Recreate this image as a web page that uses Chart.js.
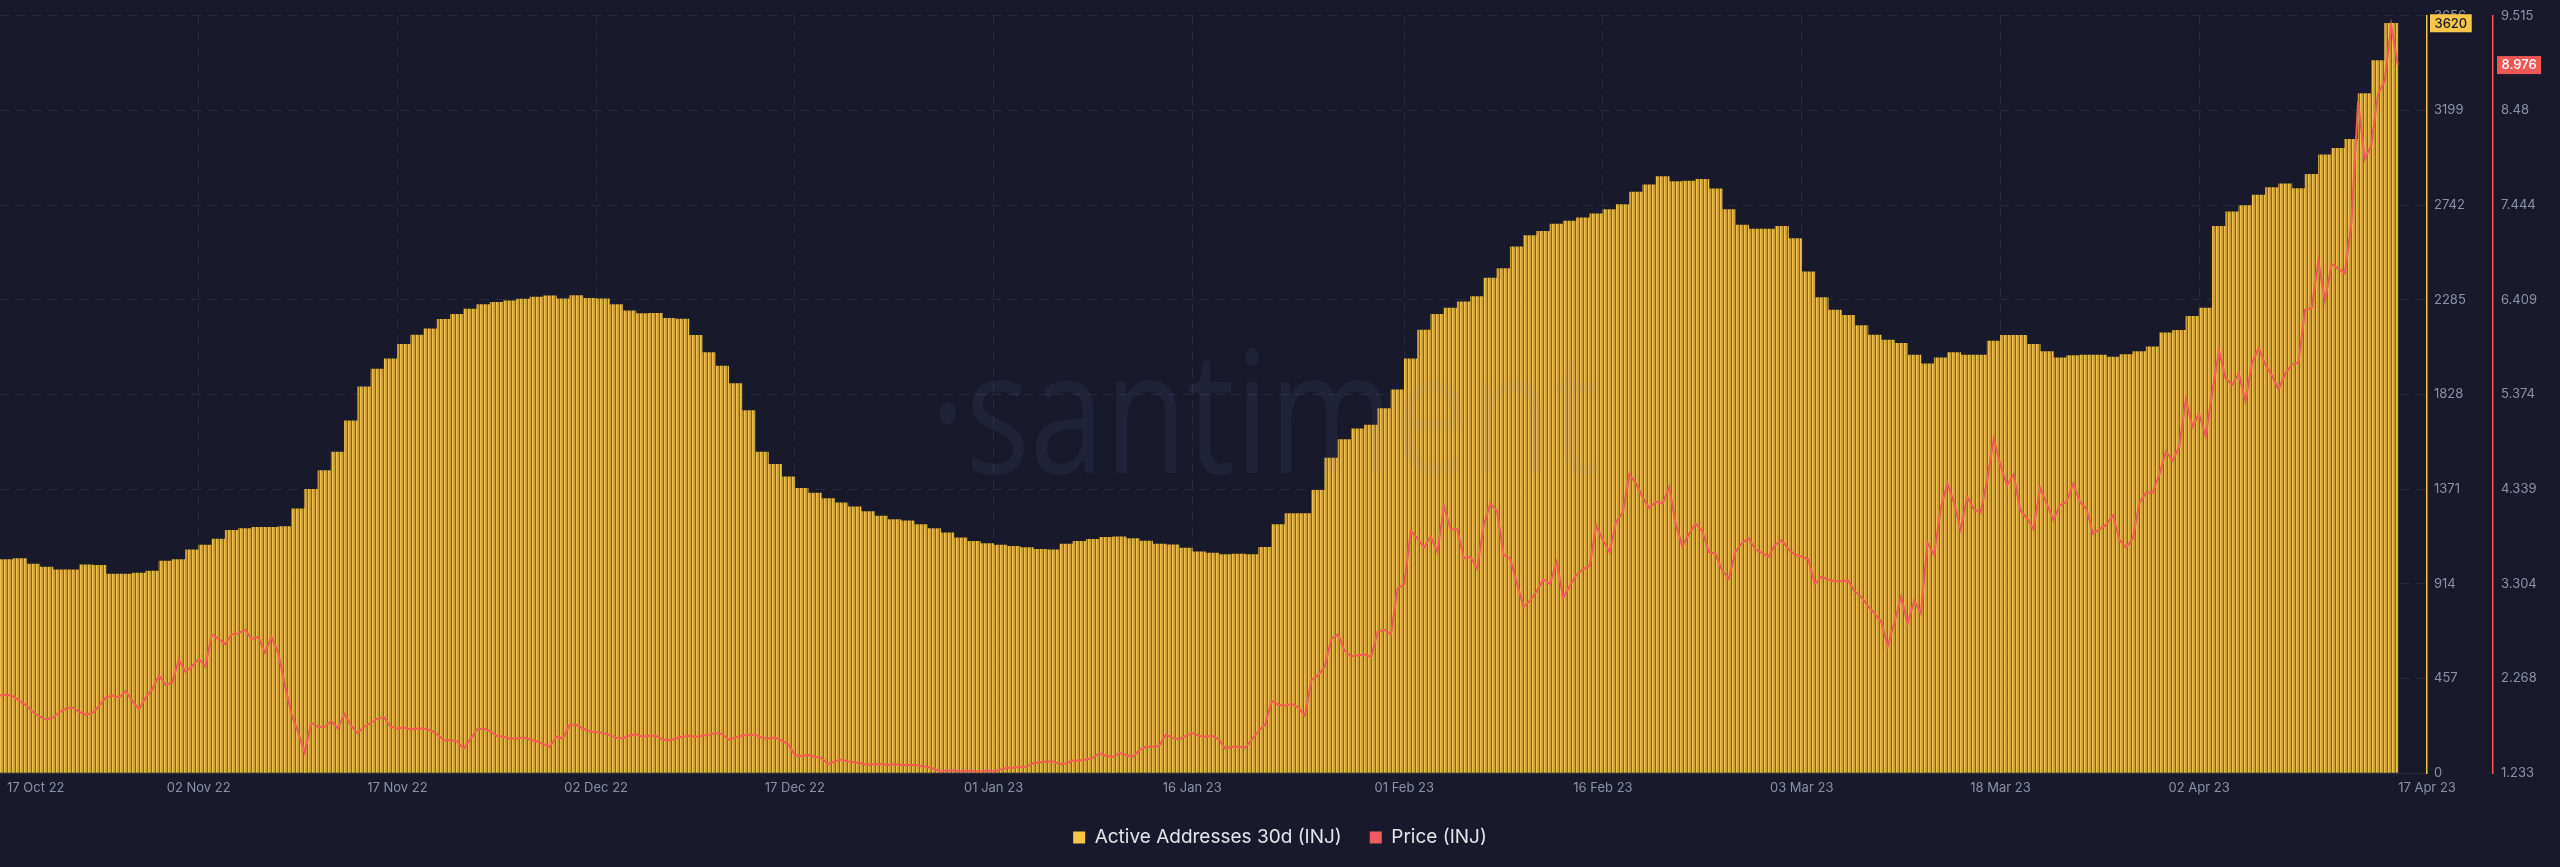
<!DOCTYPE html>
<html>
<head>
<meta charset="utf-8">
<script src="https://cdn.jsdelivr.net/npm/chart.js@4.4.0/dist/chart.umd.min.js"></script>
<style>
  html, body { margin: 0; padding: 0; background: #181a2b; overflow: hidden; }
  #wrap { width: 2560px; height: 867px; position: relative; }
</style>
</head>
<body>
<div id="wrap"><canvas id="grafico"></canvas></div>
<script>
// one value per day, 18 Oct 22 -> 16 Apr 23
const activeAddresses = [
  1030, 1035, 1009, 994, 981, 981, 1005, 1003, 961, 961,
  965, 975, 1023, 1030, 1077, 1100, 1130, 1172, 1180, 1186,
  1186, 1190, 1275, 1370, 1460, 1550, 1700, 1864, 1950, 2000,
  2070, 2115, 2145, 2190, 2215, 2240, 2262, 2273, 2280, 2288,
  2298, 2304, 2290, 2305, 2292, 2290, 2262, 2232, 2218, 2220,
  2195, 2192, 2113, 2030, 1965, 1880, 1750, 1550, 1490, 1430,
  1374, 1352, 1325, 1305, 1285, 1262, 1240, 1223, 1218, 1200,
  1180, 1160, 1135, 1118, 1108, 1100, 1095, 1088, 1080, 1078,
  1105, 1118, 1128, 1138, 1140, 1132, 1120, 1105, 1102, 1086,
  1068, 1062, 1055, 1057, 1055, 1090, 1200, 1252, 1252, 1365,
  1520, 1610, 1662, 1680, 1760, 1850, 2000, 2139, 2215, 2245,
  2275, 2300, 2390, 2435, 2540, 2595, 2615, 2650, 2665, 2680,
  2700, 2720, 2745, 2805, 2840, 2880, 2855, 2858, 2866, 2820,
  2720, 2646, 2626, 2626, 2640, 2580, 2420, 2295, 2235, 2210,
  2160, 2115, 2090, 2075, 2018, 1975, 2005, 2030, 2018, 2018,
  2085, 2113, 2113, 2070, 2035, 2005, 2015, 2018, 2018, 2008,
  2020, 2035, 2058, 2125, 2137, 2205, 2245, 2640, 2710, 2740,
  2790, 2826, 2845, 2822, 2890, 2985, 3016, 3060, 3280, 3440,
  3620
];

// two values per day, same period
const price = [
  2.08, 2.09, 2.07, 2.02, 1.97, 1.90, 1.85, 1.82, 1.84, 1.90,
  1.94, 1.95, 1.90, 1.87, 1.89, 1.97, 2.06, 2.08, 2.06, 2.13,
  2.02, 1.93, 2.06, 2.15, 2.30, 2.20, 2.22, 2.47, 2.34, 2.40,
  2.48, 2.40, 2.75, 2.70, 2.64, 2.75, 2.76, 2.80, 2.70, 2.72,
  2.55, 2.72, 2.55, 2.20, 1.88, 1.68, 1.46, 1.78, 1.74, 1.74,
  1.80, 1.72, 1.88, 1.75, 1.67, 1.74, 1.78, 1.83, 1.84, 1.74,
  1.72, 1.73, 1.71, 1.72, 1.72, 1.70, 1.66, 1.59, 1.59, 1.58,
  1.50, 1.60, 1.71, 1.72, 1.69, 1.64, 1.63, 1.61, 1.61, 1.62,
  1.60, 1.58, 1.55, 1.52, 1.63, 1.61, 1.76, 1.76, 1.72, 1.69,
  1.68, 1.67, 1.65, 1.62, 1.61, 1.64, 1.66, 1.63, 1.64, 1.64,
  1.60, 1.59, 1.61, 1.63, 1.64, 1.63, 1.64, 1.65, 1.67, 1.66,
  1.60, 1.62, 1.64, 1.65, 1.65, 1.62, 1.61, 1.62, 1.59, 1.55,
  1.43, 1.42, 1.43, 1.41, 1.40, 1.33, 1.36, 1.38, 1.36, 1.35,
  1.34, 1.32, 1.33, 1.33, 1.32, 1.33, 1.32, 1.32, 1.32, 1.31,
  1.30, 1.28, 1.25, 1.26, 1.26, 1.25, 1.26, 1.25, 1.25, 1.26,
  1.25, 1.27, 1.29, 1.29, 1.30, 1.30, 1.34, 1.35, 1.36, 1.36,
  1.33, 1.34, 1.37, 1.37, 1.38, 1.40, 1.45, 1.42, 1.41, 1.45,
  1.43, 1.41, 1.48, 1.52, 1.52, 1.53, 1.65, 1.62, 1.60, 1.64,
  1.67, 1.64, 1.63, 1.64, 1.60, 1.50, 1.52, 1.52, 1.51, 1.60,
  1.69, 1.76, 2.02, 1.98, 1.97, 1.99, 1.95, 1.86, 2.25, 2.30,
  2.40, 2.70, 2.75, 2.57, 2.51, 2.52, 2.53, 2.50, 2.78, 2.80,
  2.75, 3.25, 3.30, 3.88, 3.80, 3.70, 3.82, 3.65, 4.15, 3.90,
  3.90, 3.58, 3.60, 3.47, 3.94, 4.18, 4.10, 3.62, 3.58, 3.31,
  3.05, 3.12, 3.22, 3.35, 3.30, 3.54, 3.15, 3.28, 3.40, 3.46,
  3.50, 3.94, 3.78, 3.65, 3.98, 4.08, 4.50, 4.40, 4.25, 4.13,
  4.20, 4.18, 4.36, 3.95, 3.71, 3.85, 3.96, 3.88, 3.65, 3.63,
  3.45, 3.36, 3.65, 3.75, 3.80, 3.68, 3.64, 3.60, 3.73, 3.78,
  3.68, 3.62, 3.60, 3.57, 3.30, 3.38, 3.35, 3.33, 3.33, 3.34,
  3.22, 3.16, 3.06, 2.98, 2.89, 2.62, 2.88, 3.16, 2.87, 3.12,
  2.98, 3.75, 3.62, 4.13, 4.40, 4.19, 3.90, 4.25, 4.12, 4.08,
  4.43, 4.89, 4.60, 4.38, 4.50, 4.11, 4.02, 3.90, 4.35, 4.18,
  4.00, 4.16, 4.20, 4.40, 4.20, 4.12, 3.85, 3.90, 3.95, 4.05,
  3.78, 3.70, 3.80, 4.19, 4.30, 4.30, 4.50, 4.75, 4.65, 4.80,
  5.32, 5.02, 5.16, 4.92, 5.40, 5.85, 5.55, 5.48, 5.60, 5.30,
  5.72, 5.88, 5.70, 5.58, 5.43, 5.60, 5.70, 5.72, 6.30, 6.32,
  6.83, 6.40, 6.80, 6.75, 6.70, 7.25, 8.58, 7.95, 8.10, 8.66,
  8.80, 9.41, 8.976
];

const activeTicks = [0, 457, 914, 1371, 1828, 2285, 2742, 3199, 3656];
const priceTicks = ['1.233', '2.268', '3.304', '4.339', '5.374', '6.409', '7.444', '8.48', '9.515'];
const xTickLabels = ['17 Oct 22', '02 Nov 22', '17 Nov 22', '02 Dec 22', '17 Dec 22', '01 Jan 23',
  '16 Jan 23', '01 Feb 23', '16 Feb 23', '03 Mar 23', '18 Mar 23', '02 Apr 23', '17 Apr 23'];
const xTickDays = [2.7, 15, 30, 45, 60, 75, 90, 106, 121, 136, 151, 166, 183.2];

const corEixo = '#8c91a5';
const corGrade = '#262a3e';

Chart.defaults.font.family = "Inter, 'Noto Sans', sans-serif";

const ctx = document.getElementById('grafico').getContext('2d');

// stripes like the thin bars of the original
function listras() {
  const c = document.createElement('canvas');
  c.width = 4;
  c.height = 1;
  const g = c.getContext('2d');
  ['#f2c14a', '#cfa642', '#c39b3d', '#806528'].forEach((cor, i) => {
    g.fillStyle = cor;
    g.fillRect(i, 0, 1, 1);
  });
  return ctx.createPattern(c, 'repeat');
}

// faint logo, over the bars like in the original
const marcaDagua = {
  id: 'marcaDagua',
  afterDatasetsDraw(chart) {
    const c = chart.ctx;
    const texto = '·santiment';
    c.save();
    c.font = '170px "Open Sans"';
    c.fillStyle = 'rgba(125, 145, 205, 0.08)';
    const w = c.measureText(texto).width;
    c.translate(930, 425);
    c.scale(670 / w, 1);
    c.fillText(texto, 0, 0);
    c.restore();
  }
};

const valorAtual = {
  id: 'valorAtual',
  afterDraw(chart) {
    const c = chart.ctx;
    const ultimos = [
      { eixo: chart.scales.y, valor: activeAddresses[activeAddresses.length - 1], fundo: '#f7c548', letra: '#1b1d2c', dx: 3 },
      { eixo: chart.scales.y1, valor: price[price.length - 1], fundo: '#f05656', letra: '#ffffff', dx: 4 }
    ];
    c.save();
    c.font = "500 13px Inter, 'Noto Sans', sans-serif";
    c.textBaseline = 'middle';
    ultimos.forEach(u => {
      const texto = String(u.valor);
      const y = u.eixo.getPixelForValue(u.valor);
      const x = u.eixo.left + u.dx;
      const w = c.measureText(texto).width + 9;
      c.fillStyle = u.fundo;
      c.fillRect(x, y - 9, w, 18);
      c.fillStyle = u.letra;
      c.fillText(texto, x + 4.5, y + 0.5);
    });
    c.restore();
  }
};

const grafico = new Chart(ctx, {
  type: 'bar',
  data: {
    datasets: [
      {
        type: 'bar',
        label: 'Active Addresses 30d (INJ)',
        data: activeAddresses.map((v, i) => ({ x: i + 0.5, y: v })),
        backgroundColor: listras(),
        borderWidth: 0,
        barPercentage: 1,
        categoryPercentage: 1,
        yAxisID: 'y',
        order: 2
      },
      {
        type: 'line',
        label: 'Price (INJ)',
        data: price.map((v, i) => ({ x: i * 0.5, y: v })),
        borderColor: '#f25b5b',
        borderWidth: 2,
        pointRadius: 0,
        tension: 0,
        yAxisID: 'y1',
        order: 1
      }
    ]
  },
  options: {
    responsive: true,
    maintainAspectRatio: false,
    animation: false,
    events: [],
    layout: { padding: { bottom: 10 } },
    plugins: {
      tooltip: { enabled: false },
      legend: {
        position: 'bottom',
        labels: {
          color: '#e4e4ea',
          font: { size: 19 },
          boxWidth: 12,
          boxHeight: 12,
          padding: 28,
          sort: (a, b) => a.datasetIndex - b.datasetIndex,
          generateLabels: chart => {
            const cores = ['#f7c548', '#f25b5b'];
            return Chart.defaults.plugins.legend.labels.generateLabels(chart).map(item => {
              item.fillStyle = cores[item.datasetIndex];
              item.strokeStyle = cores[item.datasetIndex];
              item.lineWidth = 0;
              return item;
            });
          }
        }
      }
    },
    scales: {
      x: {
        type: 'linear',
        min: 0,
        max: 183.2,
        offset: false,
        grid: {
          offset: false,
          drawTicks: false,
          color: c => (c.index === 0 || c.index === xTickDays.length - 1) ? 'rgba(0,0,0,0)' : corGrade
        },
        border: { color: '#2a2d40', dash: [10, 6] },
        ticks: {
          color: corEixo,
          font: { size: 13 },
          padding: 7,
          autoSkip: false,
          maxRotation: 0,
          callback: (v, i) => xTickLabels[i]
        },
        afterBuildTicks: s => { s.ticks = xTickDays.map(v => ({ value: v })); },
        afterFit: s => { s.height = 27; }
      },
      y: {
        type: 'linear',
        position: 'right',
        weight: 0,
        min: 0,
        max: 3656,
        grid: { color: corGrade, drawTicks: false },
        border: { color: '#f5c542', width: 1.5, dash: [10, 6] },
        ticks: { color: corEixo, font: { size: 13 }, padding: 7, callback: v => String(v) },
        afterBuildTicks: s => { s.ticks = activeTicks.map(v => ({ value: v })); },
        afterFit: s => { s.width = 66; }
      },
      y1: {
        type: 'linear',
        position: 'right',
        weight: 1,
        min: 1.233,
        max: 9.515,
        grid: { drawOnChartArea: false, drawTicks: false },
        border: { color: '#f25b5b', width: 1.5 },
        ticks: { color: corEixo, font: { size: 13 }, padding: 8, callback: (v, i) => priceTicks[i] },
        afterBuildTicks: s => { s.ticks = priceTicks.map(t => ({ value: parseFloat(t) })); },
        afterFit: s => { s.width = 67; }
      }
    }
  },
  plugins: [marcaDagua, valorAtual]
});
</script>
</body>
</html>
